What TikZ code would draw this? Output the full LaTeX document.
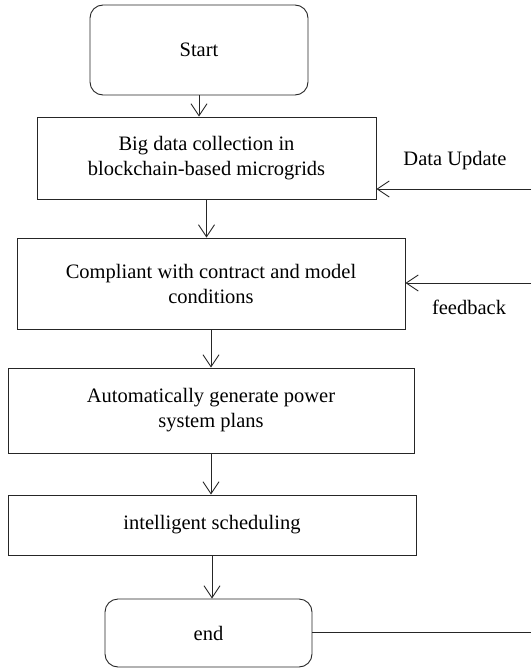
\documentclass[tikz,border=0pt]{standalone}
\usepackage{fontspec}
\setmainfont{Liberation Serif}
\usetikzlibrary{arrows.meta}
\begin{document}
\begin{tikzpicture}[x=1pt,y=-1pt,
box/.style={draw=black!85,line width=0.9pt,align=center,inner sep=0pt,font=\fontsize{20.5}{25}\selectfont},
rbox/.style={box,rounded corners=13pt},
arr/.style={draw=black!85,line width=0.9pt,-{Straight Barb[length=12pt,width=16pt]}},
lab/.style={font=\fontsize{20.5}{25}\selectfont,inner sep=0pt}]
\useasboundingbox (0,0) rectangle (531,669);

\node[rbox,minimum width=218pt,minimum height=90pt] (start) at (199,50) {Start};
\node[box,minimum width=339pt,minimum height=82pt] (collect) at (206.5,158) {Big data collection in\\blockchain-based microgrids};
\node[box,minimum width=388pt,minimum height=91pt] (comply) at (211,283.5) {Compliant with contract and model\\conditions};
\node[box,minimum width=406pt,minimum height=85pt] (plans) at (211,410.5) {Automatically generate power\\system plans};
\node[box,minimum width=408pt,minimum height=60pt] (sched) at (212,525) {intelligent scheduling};
\node[rbox,minimum width=207pt,minimum height=68pt] (end) at (208.5,633) {end};

\coordinate (upd) at (531,189);
\coordinate (fb) at (531,283);
\coordinate (back) at (531,632);

\draw[arr] (start.south) -- (start.south |- collect.north);
\draw[arr] (collect.south) -- (collect.south |- comply.north);
\draw[arr] (comply.south) -- (comply.south |- plans.north);
\draw[arr] (plans.south) -- (plans.south |- sched.north);
\draw[arr] (sched.south) -- (sched.south |- end.north);

\draw[arr] (upd) -- (upd -| collect.east);
\draw[arr] (fb) -- (fb -| comply.east);
\draw[draw=black!85,line width=0.9pt] (end.east |- back) -- (back);

\node[lab] (updlab) at (455,161) {Data Update};
\node[lab] (fblab) at (469,307) {feedback};
\end{tikzpicture}
\end{document}
